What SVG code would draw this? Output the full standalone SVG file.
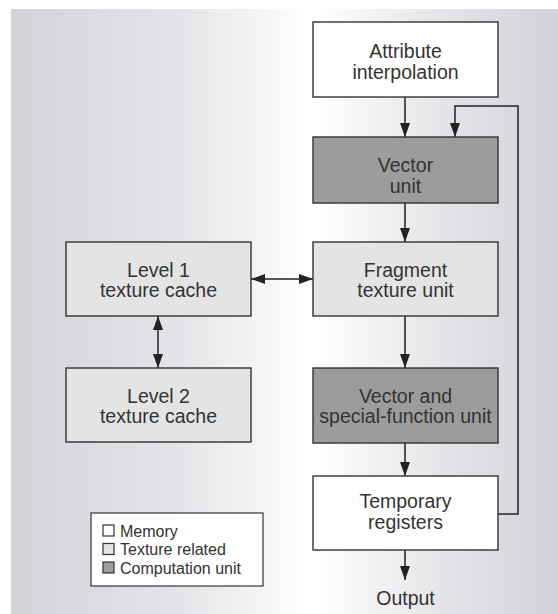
<svg xmlns="http://www.w3.org/2000/svg" width="558" height="614" viewBox="0 0 558 614">
  <defs>
    <linearGradient id="bg" x1="0" y1="0" x2="1" y2="0">
      <stop offset="0" stop-color="#d3d3d8"/>
      <stop offset="0.3" stop-color="#e4e4e8"/>
      <stop offset="0.55" stop-color="#ffffff"/>
      <stop offset="0.8" stop-color="#e4e4e8"/>
      <stop offset="1" stop-color="#d2d2d7"/>
    </linearGradient>
    <marker id="ah" viewBox="0 0 14 10" refX="14" refY="5" markerWidth="14" markerHeight="10" markerUnits="userSpaceOnUse" orient="auto-start-reverse">
      <path d="M0,0 L14,5 L0,10 Z" fill="#222"/>
    </marker>
    <style>
      .box { stroke: #333; stroke-width: 1.4; }
      .mem { fill: #ffffff; }
      .tex { fill: #e4e4e4; }
      .cmp { fill: #9c9c9c; }
      .lbl { font-family: "Liberation Sans", Arial, sans-serif; font-size: 19.5px; fill: #333; text-anchor: middle; }
      .leg { font-family: "Liberation Sans", Arial, sans-serif; font-size: 16px; fill: #333; }
      .wire { fill: none; stroke: #222; stroke-width: 1.5; }
    </style>
  </defs>

  <rect x="0" y="0" width="558" height="614" fill="#ffffff"/>
  <rect x="11" y="9" width="547" height="605" fill="url(#bg)"/>

  <g id="connectors">
    <line class="wire" x1="405" y1="97" x2="405" y2="137" marker-end="url(#ah)"/>
    <polyline class="wire" points="498,514 518,514 518,106 455,106 455,137" marker-end="url(#ah)"/>
    <line class="wire" x1="405" y1="203" x2="405" y2="242" marker-end="url(#ah)"/>
    <line class="wire" x1="251" y1="279" x2="313" y2="279" marker-start="url(#ah)" marker-end="url(#ah)"/>
    <line class="wire" x1="158" y1="316" x2="158" y2="368" marker-start="url(#ah)" marker-end="url(#ah)"/>
    <line class="wire" x1="405" y1="316" x2="405" y2="368" marker-end="url(#ah)"/>
    <line class="wire" x1="405" y1="443" x2="405" y2="476" marker-end="url(#ah)"/>
    <line class="wire" x1="405" y1="550" x2="405" y2="580" marker-end="url(#ah)"/>
  </g>

  <g id="attribute-interpolation">
    <rect class="box mem" x="313" y="22" width="185" height="75"/>
    <text class="lbl" x="405.5" y="58">Attribute</text>
    <text class="lbl" x="405.5" y="79">interpolation</text>
  </g>

  <g id="vector-unit">
    <rect class="box cmp" x="313" y="137" width="185" height="66"/>
    <text class="lbl" x="405.5" y="172">Vector</text>
    <text class="lbl" x="405.5" y="193">unit</text>
  </g>

  <g id="fragment-texture-unit">
    <rect class="box tex" x="313" y="242" width="185" height="74"/>
    <text class="lbl" x="405.5" y="277">Fragment</text>
    <text class="lbl" x="405.5" y="297">texture unit</text>
  </g>

  <g id="level1-cache">
    <rect class="box tex" x="66" y="242" width="185" height="74"/>
    <text class="lbl" x="158.5" y="277">Level 1</text>
    <text class="lbl" x="158.5" y="297">texture cache</text>
  </g>

  <g id="level2-cache">
    <rect class="box tex" x="66" y="368" width="185" height="74"/>
    <text class="lbl" x="158.5" y="403">Level 2</text>
    <text class="lbl" x="158.5" y="423">texture cache</text>
  </g>

  <g id="vector-sfu">
    <rect class="box cmp" x="313" y="368" width="185" height="75"/>
    <text class="lbl" x="405.5" y="403">Vector and</text>
    <text class="lbl" x="405.5" y="423">special-function unit</text>
  </g>

  <g id="temporary-registers">
    <rect class="box mem" x="313" y="476" width="185" height="74"/>
    <text class="lbl" x="405.5" y="508">Temporary</text>
    <text class="lbl" x="405.5" y="529">registers</text>
  </g>

  <g id="output">
    <text class="lbl" x="405.5" y="605">Output</text>
  </g>

  <g id="legend">
    <rect x="91" y="513" width="172" height="73" fill="#ffffff" stroke="#333" stroke-width="1.2"/>
    <rect x="103" y="525" width="11" height="11" fill="#ffffff" stroke="#333" stroke-width="1.2"/>
    <rect x="103" y="543.5" width="11" height="11" fill="#e4e4e4" stroke="#333" stroke-width="1.2"/>
    <rect x="103" y="562" width="11" height="11" fill="#9c9c9c" stroke="#333" stroke-width="1.2"/>
    <text class="leg" x="120" y="536.5">Memory</text>
    <text class="leg" x="120" y="555">Texture related</text>
    <text class="leg" x="120" y="573.5">Computation unit</text>
  </g>
</svg>
